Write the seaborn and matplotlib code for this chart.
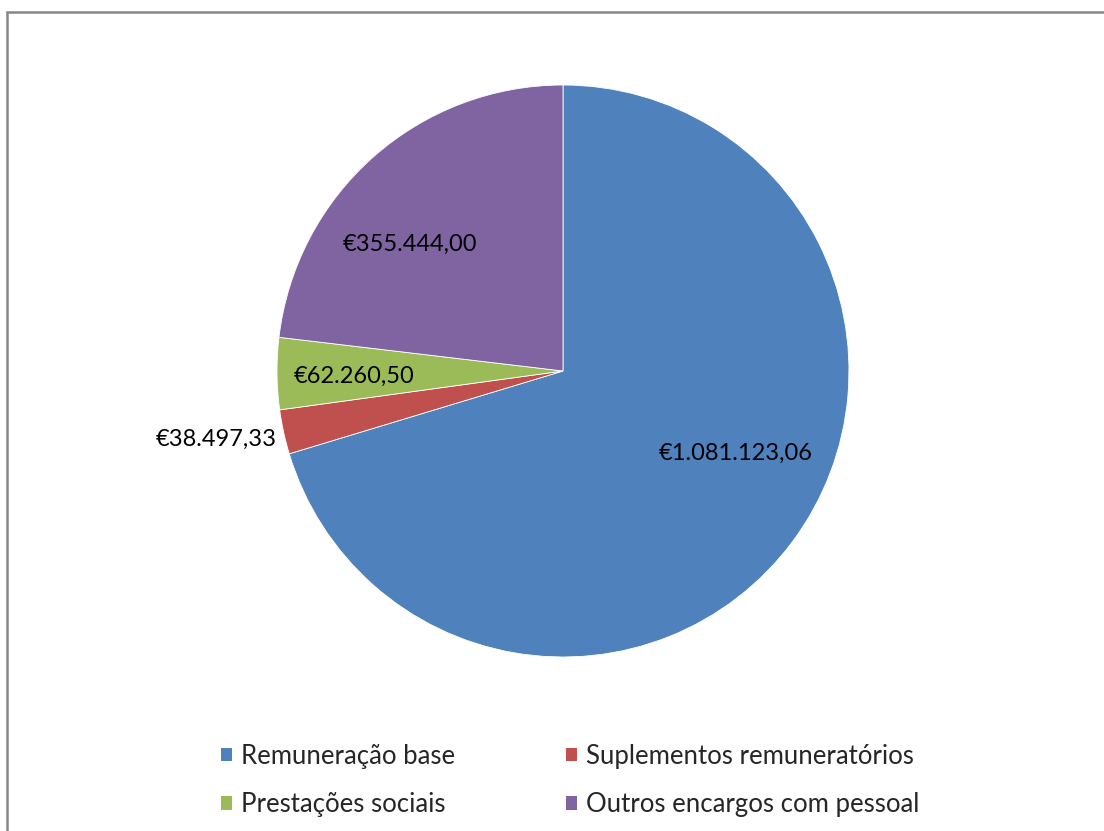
import numpy as np
import matplotlib
matplotlib.use("Agg")
import matplotlib.pyplot as plt
import seaborn as sns
from matplotlib.patches import Rectangle, Patch

# ──────────────────────────────────────────
# DATA
# ──────────────────────────────────────────
categories = ['Remuneração base', 'Suplementos remuneratórios',
              'Prestações sociais', 'Outros encargos com pessoal']
values = [1081123.06, 38497.33, 62260.50, 355444.00]
value_labels = ['€1.081.123,06', '€38.497,33', '€62.260,50', '€355.444,00']
colors = ['#4F81BD', '#C0504D', '#9BBB59', '#8064A2']

sns.set_theme(style="white")
plt.rcParams['font.family'] = ['Lato', 'DejaVu Sans']

fig = plt.figure(figsize=(11.04, 8.31), dpi=100)
fig.patch.set_facecolor('white')

# chart frame (cut off on right and bottom like the original)
fig.patches.append(Rectangle((7 / 1104, -0.05), 1.1, 1 - 12 / 831 + 0.05,
                             transform=fig.transFigure, fill=False,
                             edgecolor='#868686', linewidth=1.8, zorder=0))

ax = fig.add_axes([0.2509, 0.2094, 0.5181, 0.6883])
wedges, _ = ax.pie(values, colors=colors, startangle=90, counterclock=False,
                   radius=1, wedgeprops=dict(edgecolor='white', linewidth=0.6))
ax.set_xlim(-1, 1)
ax.set_ylim(-1, 1)
ax.set_aspect('equal')
ax.axis('off')

# data labels placed relative to each wedge (angle + distance)
label_pos = [(-25.4, 0.67, 'center'), (193.5, 1.03, 'right'),
             (181.4, 0.73, 'center'), (140.3, 0.695, 'center')]
for w, txt, (ang, dist, ha) in zip(wedges, value_labels, label_pos):
    a = np.deg2rad(ang)
    ax.text(dist * np.cos(a), dist * np.sin(a), txt, ha=ha, va='center',
            fontsize=17, color='black')

# legend filled row by row
order = [0, 2, 1, 3]
handles = [Patch(facecolor=colors[i], edgecolor='none') for i in order]
fig.legend(handles, [categories[i] for i in order], ncol=2, loc='center',
           bbox_to_anchor=(0.5165, 0.061), frameon=False, fontsize=18.5,
           handlelength=0.45, handleheight=0.45, handletextpad=0.35,
           columnspacing=4.3, labelspacing=0.9)

plt.savefig('out.png', dpi=100)
plt.close()
